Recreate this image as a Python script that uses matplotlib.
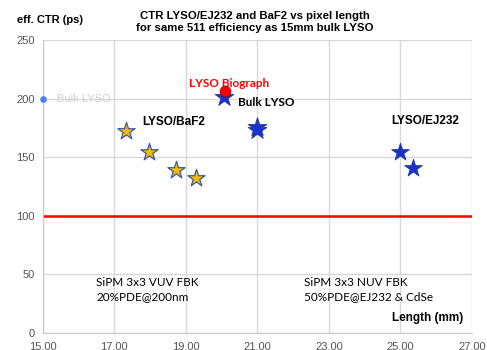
import matplotlib
matplotlib.use("Agg")
import matplotlib.pyplot as plt
from matplotlib.ticker import FuncFormatter

# data
baf2_len = [17.32, 17.97, 18.72, 19.28]
baf2_ctr = [172, 154, 139, 132]
bulk_len = [21.0, 21.0, 20.06]
bulk_ctr = [176, 173, 201]
ej232_len = [25.0, 25.35]
ej232_ctr = [154, 141]
biograph_len = [20.1]
biograph_ctr = [206]
target_ctr = 100

plt.rcParams['font.family'] = ['Liberation Sans', 'DejaVu Sans']

fig = plt.figure(figsize=(4.87, 3.5), dpi=100)
ax = fig.add_axes([0.088, 0.0486, 0.881, 0.8374])

ax.set_xlim(15, 27)
ax.set_ylim(0, 250)
ax.set_xticks([15, 17, 19, 21, 23, 25, 27])
ax.set_yticks([0, 50, 100, 150, 200, 250])
ax.xaxis.set_major_formatter(FuncFormatter(lambda v, p: f"{v:.2f}".replace(".", ",")))
ax.grid(True, color="#d9d9d9", lw=1)
ax.set_axisbelow(True)
for s in ["top", "right"]:
    ax.spines[s].set_visible(False)
for s in ["left", "bottom"]:
    ax.spines[s].set_color("#c8c8c8")
ax.tick_params(length=0, labelsize=8, colors="#555555", pad=6)

ax.axhline(target_ctr, color="#ff0000", lw=1.8, zorder=2)

ax.scatter(baf2_len, baf2_ctr, marker="*", s=170, c="#f5b800",
           edgecolors="#3a5aa8", linewidths=0.9, zorder=3)
ax.scatter(bulk_len, bulk_ctr, marker="*", s=200, c="#1a2fd0",
           edgecolors="#2040a0", linewidths=0.6, zorder=3)
ax.scatter(ej232_len, ej232_ctr, marker="*", s=180, c="#1a2fd0",
           edgecolors="#2040a0", linewidths=0.6, zorder=3)
ax.scatter(biograph_len, biograph_ctr, marker="o", s=60, c="#ff0000",
           edgecolors="#aa0000", linewidths=0.6, zorder=4)

# faint leftover legend entry
ax.scatter([15], [200], s=14, c="#4285f4", zorder=4, clip_on=False)
ax.text(15.4, 200, "Bulk LYSO", color="#d0d0d0", fontsize=8, va="center", zorder=1)

ax.text(20.2, 213, "LYSO Biograph", color="#ff0000", fontsize=8.5,
        fontweight="bold", family="Lato", ha="center", va="center")
ax.text(20.45, 197, "Bulk LYSO", color="black", fontsize=8.5,
        fontweight="bold", family="Lato", ha="left", va="center")
ax.text(17.78, 180, "LYSO/BaF2", fontsize=8.5, fontweight="bold", va="center")
ax.text(24.75, 181, "LYSO/EJ232", fontsize=8.5, fontweight="bold", va="center")
ax.text(16.5, 37, "SiPM 3x3 VUV FBK\n20%PDE@200nm", fontsize=8.5,
        family="Lato", va="center", linespacing=1.35)
ax.text(22.3, 37, "SiPM 3x3 NUV FBK\n50%PDE@EJ232 & CdSe", fontsize=8.5,
        family="Lato", va="center", linespacing=1.35)
ax.text(26.75, 13, "Length (mm)", fontsize=8.5, fontweight="bold", ha="right", va="center")

fig.text(0.035, 0.943, "eff. CTR (ps)", fontsize=8, fontweight="bold", va="center")
fig.text(0.523, 0.937, "CTR LYSO/EJ232 and BaF2 vs pixel length\nfor same 511 efficiency as 15mm bulk LYSO",
         fontsize=8.2, fontweight="bold", ha="center", va="center", linespacing=1.3)

fig.savefig("out.png", dpi=100)
